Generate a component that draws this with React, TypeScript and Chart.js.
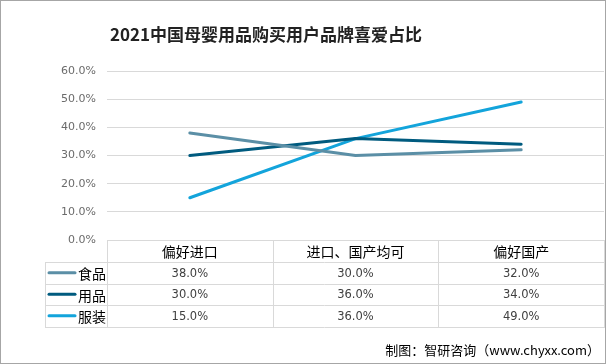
import React, { useEffect, useRef } from "react";
import { Chart, registerables } from "chart.js";

Chart.register(...registerables);

const categories = ["偏好进口", "进口、国产均可", "偏好国产"];
const seriesNames = ["食品", "用品", "服装"];
const foodValues = [38, 30, 32];
const goodsValues = [30, 36, 34];
const clothingValues = [15, 36, 49];
const seriesColors = ["#5B8FA6", "#005B7F", "#13A4DB"];
const yTicks = [0, 10, 20, 30, 40, 50, 60];

const fmt = (v: number) => v.toFixed(1) + "%";

const tablePlugin = {
  id: "dataTable",
  afterDraw(chart: any) {
    const ctx = chart.ctx as CanvasRenderingContext2D;
    const area = chart.chartArea;
    const xs = chart.scales.x;
    const left = area.left;
    const right = area.right;
    const colW = (right - left) / categories.length;
    const legendLeft = 45;
    const rowLines = [area.bottom, area.bottom + 22, area.bottom + 43.5, area.bottom + 65, area.bottom + 86.5];
    const all = [foodValues, goodsValues, clothingValues];
    ctx.save();
    ctx.strokeStyle = "#d9d9d9";
    ctx.lineWidth = 1;
    const hline = (x1: number, x2: number, y: number) => {
      const yy = Math.round(y) + 0.5;
      ctx.beginPath();
      ctx.moveTo(x1, yy);
      ctx.lineTo(x2, yy);
      ctx.stroke();
    };
    const vline = (x: number, y1: number, y2: number) => {
      const xx = Math.round(x) + 0.5;
      ctx.beginPath();
      ctx.moveTo(xx, Math.round(y1));
      ctx.lineTo(xx, Math.round(y2) + 1);
      ctx.stroke();
    };
    hline(left, right, rowLines[0]);
    for (let i = 1; i < rowLines.length; i++) hline(legendLeft, right, rowLines[i]);
    vline(legendLeft, rowLines[1], rowLines[4]);
    for (let c = 0; c <= categories.length; c++) {
      vline(left + c * colW, rowLines[0], rowLines[4]);
    }
    ctx.fillStyle = "#000";
    ctx.textAlign = "center";
    ctx.textBaseline = "middle";
    ctx.font = '14px "Noto Sans CJK SC"';
    categories.forEach((c, i) => {
      const cx = xs.getPixelForValue(i);
      ctx.fillText(c, cx, (rowLines[0] + rowLines[1]) / 2 + 1);
    });
    for (let r = 0; r < 3; r++) {
      const cy = (rowLines[r + 1] + rowLines[r + 2]) / 2;
      ctx.strokeStyle = seriesColors[r];
      ctx.lineWidth = 3;
      ctx.lineCap = "round";
      ctx.beginPath();
      ctx.moveTo(49, cy);
      ctx.lineTo(75, cy);
      ctx.stroke();
      ctx.fillStyle = "#000";
      ctx.textAlign = "left";
      ctx.font = '14px "Noto Sans CJK SC"';
      ctx.fillText(seriesNames[r], 78, cy + 1);
      ctx.textAlign = "center";
      ctx.font = '11.5px "DejaVu Sans"';
      ctx.fillStyle = "#404040";
      all[r].forEach((v, i) => {
        ctx.fillText(fmt(v), xs.getPixelForValue(i), cy + 1);
      });
    }
    ctx.restore();
  },
};

export default function App() {
  const ref = useRef<HTMLCanvasElement>(null);
  useEffect(() => {
    document.body.style.margin = "0";
    const chart = new Chart(ref.current!, {
      type: "line",
      data: {
        labels: categories,
        datasets: [
          { label: seriesNames[0], data: foodValues, borderColor: seriesColors[0], backgroundColor: seriesColors[0] },
          { label: seriesNames[1], data: goodsValues, borderColor: seriesColors[1], backgroundColor: seriesColors[1] },
          { label: seriesNames[2], data: clothingValues, borderColor: seriesColors[2], backgroundColor: seriesColors[2] },
        ].map((d) => ({ ...d, borderWidth: 3, pointRadius: 0, tension: 0, borderCapStyle: "round" as const, borderJoinStyle: "round" as const })),
      },
      options: {
        responsive: false,
        animation: false,
        devicePixelRatio: 1,
        layout: { padding: { left: 0, right: 2, top: 71, bottom: 124 } },
        plugins: { legend: { display: false }, title: { display: false }, tooltip: { enabled: false } },
        scales: {
          x: { type: "category", display: false, offset: true },
          y: {
            min: 0,
            max: 60,
            afterBuildTicks: (s: any) => {
              s.ticks = yTicks.map((v) => ({ value: v }));
            },
            afterFit: (s: any) => {
              s.width = 107;
            },
            border: { display: false },
            grid: { color: "#d9d9d9", drawTicks: false, lineWidth: 1 },
            ticks: {
              padding: 11,
              color: "#6b6b6b",
              font: { family: "DejaVu Sans", size: 11 },
              callback: (v: any) => fmt(Number(v)),
            },
          },
        },
      },
      plugins: [tablePlugin],
    });
    return () => chart.destroy();
  }, []);
  return (
    <div style={{ position: "fixed", left: 0, top: 0, width: 606, height: 364, background: "#fff" }}>
      <canvas ref={ref} width={606} height={364} style={{ position: "absolute", left: 0, top: 0 }} />
      <div
        style={{
          position: "absolute",
          left: 110,
          top: 20,
          fontFamily: '"Noto Sans CJK SC"',
          fontWeight: "bold",
          fontSize: 17,
          lineHeight: "28px",
          color: "#222",
          whiteSpace: "nowrap",
        }}
      >
        2021中国母婴用品购买用户品牌喜爱占比
      </div>
      <div
        style={{
          position: "absolute",
          right: 6,
          top: 340,
          fontFamily: '"Noto Sans CJK SC"',
          fontSize: 13,
          lineHeight: "20px",
          color: "#000",
          whiteSpace: "nowrap",
        }}
      >
        制图：智研咨询（www.chyxx.com）
      </div>
      <div
        style={{
          position: "absolute",
          left: 0,
          top: 0,
          width: 606,
          height: 364,
          boxSizing: "border-box",
          border: "1px solid #a6a6a6",
          pointerEvents: "none",
        }}
      />
    </div>
  );
}
